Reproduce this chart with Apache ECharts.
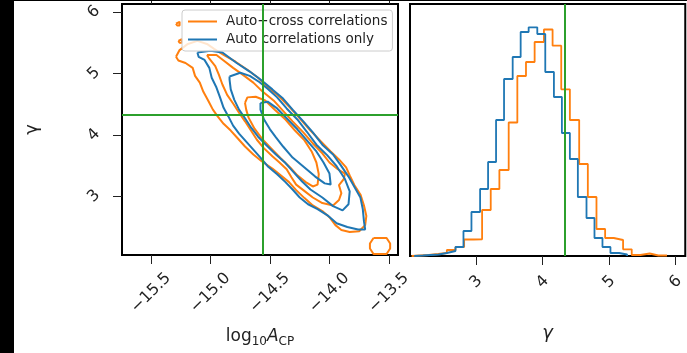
<!DOCTYPE html>
<html lang="en">
<head>
<meta charset="UTF-8">
<title>corner</title>
<script src="https://cdn.jsdelivr.net/npm/echarts@6/dist/echarts.min.js"></script>
<style>
    html, body { margin: 0; padding: 0; background: #fff; }
    #chart { width: 687px; height: 353px; }
</style>
</head>
<body>
<div id="chart"></div>
<script>
    // tick values
    var logATicks = [-15.5, -15.0, -14.5, -14.0, -13.5];
    var gammaTicks = [3, 4, 5, 6];

    // injected values (green lines)
    var truthLogA = -14.56;
    var truthGamma = 4.33;

    // 2D contours, [log10A, gamma]
    var orangeOuter = [[-15.29,5.27],[-15.26,5.38],[-15.19,5.48],[-15.11,5.53],[-15.03,5.48],[-14.97,5.40],[-14.89,5.30],[-14.79,5.19],[-14.69,5.06],[-14.60,4.93],[-14.52,4.78],[-14.42,4.62],[-14.33,4.44],[-14.25,4.27],[-14.16,4.07],[-14.07,3.89],[-13.99,3.73],[-13.92,3.60],[-13.86,3.47],[-13.83,3.34],[-13.79,3.18],[-13.74,3.03],[-13.71,2.85],[-13.69,2.68],[-13.70,2.53],[-13.75,2.43],[-13.83,2.42],[-13.90,2.45],[-13.95,2.53],[-14.00,2.66],[-14.06,2.76],[-14.14,2.85],[-14.21,2.97],[-14.28,3.10],[-14.34,3.23],[-14.41,3.34],[-14.48,3.45],[-14.57,3.57],[-14.64,3.68],[-14.71,3.81],[-14.77,3.94],[-14.83,4.07],[-14.89,4.18],[-14.94,4.30],[-14.98,4.41],[-15.02,4.56],[-15.06,4.70],[-15.09,4.85],[-15.13,4.96],[-15.15,5.09],[-15.21,5.17],[-15.27,5.21]];
    var orangeMiddle = [[-15.03,5.30],[-14.95,5.30],[-14.89,5.21],[-14.81,5.09],[-14.73,4.98],[-14.64,4.85],[-14.56,4.70],[-14.47,4.56],[-14.39,4.39],[-14.31,4.22],[-14.22,4.04],[-14.14,3.86],[-14.06,3.70],[-14.00,3.55],[-13.93,3.44],[-13.87,3.37],[-13.88,3.28],[-13.92,3.18],[-13.90,3.05],[-13.92,2.94],[-13.97,2.85],[-14.06,2.89],[-14.14,2.98],[-14.22,3.10],[-14.28,3.19],[-14.32,3.31],[-14.36,3.44],[-14.42,3.55],[-14.48,3.65],[-14.55,3.78],[-14.61,3.92],[-14.66,4.07],[-14.71,4.22],[-14.76,4.36],[-14.81,4.51],[-14.86,4.65],[-14.90,4.82],[-14.93,4.98],[-14.96,5.12],[-15.01,5.24]];
    var orangeInner = [[-14.71,4.52],[-14.69,4.61],[-14.62,4.62],[-14.54,4.56],[-14.46,4.41],[-14.37,4.25],[-14.29,4.07],[-14.21,3.91],[-14.15,3.73],[-14.11,3.55],[-14.09,3.36],[-14.10,3.19],[-14.14,3.16],[-14.20,3.23],[-14.27,3.34],[-14.33,3.47],[-14.41,3.62],[-14.48,3.76],[-14.56,3.92],[-14.63,4.10],[-14.68,4.28],[-14.70,4.41]];
    var orangeIslandA = [[-15.29,5.81],[-15.28,5.84],[-15.26,5.84],[-15.25,5.81],[-15.26,5.78],[-15.28,5.78]];
    var orangeIslandB = [[-15.27,5.53],[-15.26,5.56],[-15.24,5.56],[-15.23,5.53],[-15.24,5.50],[-15.26,5.50]];
    var orangeIslandC = [[-13.63,2.32],[-13.52,2.32],[-13.49,2.23],[-13.49,2.15],[-13.52,2.06],[-13.63,2.06],[-13.66,2.15],[-13.66,2.23]];

    var blueOuter = [[-15.11,5.34],[-15.00,5.37],[-14.90,5.34],[-14.78,5.17],[-14.67,5.03],[-14.58,4.90],[-14.48,4.74],[-14.39,4.59],[-14.31,4.41],[-14.22,4.22],[-14.14,4.04],[-14.06,3.84],[-13.97,3.68],[-13.91,3.52],[-13.84,3.32],[-13.79,3.15],[-13.74,2.98],[-13.72,2.79],[-13.71,2.59],[-13.70,2.46],[-13.76,2.46],[-13.85,2.50],[-13.94,2.56],[-14.01,2.68],[-14.10,2.79],[-14.18,2.87],[-14.25,2.98],[-14.31,3.11],[-14.37,3.23],[-14.44,3.36],[-14.52,3.49],[-14.58,3.63],[-14.64,3.76],[-14.70,3.89],[-14.76,4.02],[-14.81,4.15],[-14.85,4.30],[-14.89,4.44],[-14.92,4.61],[-14.95,4.77],[-14.99,4.93],[-15.01,5.09],[-15.05,5.22],[-15.10,5.27]];
    var blueMiddle = [[-14.84,4.95],[-14.75,5.01],[-14.67,4.96],[-14.59,4.86],[-14.52,4.75],[-14.44,4.61],[-14.36,4.43],[-14.27,4.25],[-14.19,4.05],[-14.11,3.84],[-14.02,3.67],[-13.94,3.49],[-13.87,3.28],[-13.83,3.08],[-13.84,2.87],[-13.89,2.77],[-13.97,2.84],[-14.06,2.98],[-14.16,3.11],[-14.23,3.24],[-14.30,3.39],[-14.37,3.54],[-14.45,3.68],[-14.53,3.83],[-14.60,3.97],[-14.66,4.12],[-14.71,4.27],[-14.76,4.41],[-14.80,4.57],[-14.83,4.74],[-14.84,4.90]];
    var blueInner = [[-14.58,4.52],[-14.52,4.54],[-14.44,4.43],[-14.36,4.27],[-14.27,4.09],[-14.19,3.91],[-14.11,3.73],[-14.05,3.55],[-14.00,3.37],[-13.99,3.19],[-14.04,3.21],[-14.12,3.32],[-14.21,3.47],[-14.31,3.63],[-14.39,3.81],[-14.45,3.96],[-14.50,4.09],[-14.55,4.25],[-14.58,4.41]];

    // gamma histograms: bin edges and heights
    var gammaEdgesCross = [2.03,2.16,2.29,2.43,2.56,2.69,2.82,2.96,3.09,3.22,3.35,3.49,3.62,3.75,3.88,4.02,4.15,4.28,4.41,4.55,4.68,4.81,4.94,5.07,5.21,5.34,5.47,5.61,5.74,5.87];
    var gammaHistCross = [0.5,1,2,3,6,9,16.5,16.7,46,67,86,133.5,180,194,214,226.5,210.3,166.7,136,92,59,27,18,16,6.7,1,2.5,0.5,0.5];
    var gammaEdgesAuto = [2.07,2.20,2.32,2.44,2.56,2.69,2.81,2.93,3.06,3.18,3.30,3.42,3.55,3.67,3.79,3.92,4.04,4.17,4.29,4.41,4.53,4.66,4.78,4.90,5.02,5.15,5.27];
    var gammaHistAuto = [0.5,1,1.5,3,5,9,25,44,67,94,136,177,199,224,228.7,222,184,159,123,97,59,38,18,9,3,1.5];

    var ORANGE = '#ff7f0e', BLUE = '#1f77b4', GREEN = '#2ca02c';
    var NAME_CROSS = 'Auto+cross correlations', NAME_AUTO = 'Auto correlations only';
    var FONT = 'DejaVu Sans';

    function closed(p) { return p.concat([p[0]]); }
    function steps(edges, h) {
        var pts = [[edges[0], 0]];
        for (var i = 0; i < h.length; i++) {
            pts.push([edges[i], h[i]], [edges[i + 1], h[i]]);
        }
        pts.push([edges[edges.length - 1], 0]);
        return pts;
    }
    function minusFmt(v) {
        return (v < 0 ? '\u2212' : '') + Math.abs(v).toFixed(1);
    }
    function contour(name, color, pts) {
        return {
            type: 'line', name: name, xAxisIndex: 0, yAxisIndex: 0,
            data: closed(pts), symbol: 'none', silent: true,
            lineStyle: { color: color, width: 2 }, itemStyle: { color: color }
        };
    }

    var tickStyle = { lineStyle: { color: '#222', width: 1 } };
    var labelBase = { fontFamily: FONT, fontSize: 16, color: '#222', rotate: 45, align: 'center', verticalAlign: 'middle' };

    var series = [
        contour(NAME_CROSS, ORANGE, orangeOuter),
        contour(NAME_CROSS, ORANGE, orangeMiddle),
        contour(NAME_CROSS, ORANGE, orangeInner),
        contour(NAME_CROSS, ORANGE, orangeIslandA),
        contour(NAME_CROSS, ORANGE, orangeIslandB),
        contour(NAME_CROSS, ORANGE, orangeIslandC),
        contour(NAME_AUTO, BLUE, blueOuter),
        contour(NAME_AUTO, BLUE, blueMiddle),
        contour(NAME_AUTO, BLUE, blueInner),
        {
            type: 'line', name: NAME_CROSS, xAxisIndex: 1, yAxisIndex: 1,
            data: steps(gammaEdgesCross, gammaHistCross), symbol: 'none', silent: true,
            lineStyle: { color: ORANGE, width: 1.8 }, itemStyle: { color: ORANGE }
        },
        {
            type: 'line', name: NAME_AUTO, xAxisIndex: 1, yAxisIndex: 1,
            data: steps(gammaEdgesAuto, gammaHistAuto), symbol: 'none', silent: true,
            lineStyle: { color: BLUE, width: 1.8 }, itemStyle: { color: BLUE }
        },
        {
            type: 'line', name: 'truth2d', xAxisIndex: 0, yAxisIndex: 0,
            data: [[truthLogA, truthGamma]], symbol: 'none', silent: true,
            markLine: {
                silent: true, symbol: ['none', 'none'], label: { show: false },
                lineStyle: { color: GREEN, width: 2, type: 'solid' },
                data: [{ xAxis: truthLogA }, { yAxis: truthGamma }]
            }
        },
        {
            type: 'line', name: 'truth1d', xAxisIndex: 1, yAxisIndex: 1,
            data: [[truthGamma, 0]], symbol: 'none', silent: true,
            markLine: {
                silent: true, symbol: ['none', 'none'], label: { show: false },
                lineStyle: { color: GREEN, width: 2, type: 'solid' },
                data: [{ xAxis: truthGamma }]
            }
        }
    ];

    var option = {
        animation: false,
        backgroundColor: '#fff',
        grid: [
            { left: 122, top: 4, width: 276, height: 252, show: true, borderColor: '#000', borderWidth: 2, backgroundColor: '#fff' },
            { left: 410, top: 4, width: 276, height: 252, show: true, borderColor: '#000', borderWidth: 2, backgroundColor: '#fff' }
        ],
        legend: {
            data: [NAME_CROSS, NAME_AUTO],
            orient: 'vertical', left: 182, top: 10,
            padding: [4, 5, 4, 6], itemGap: 3,
            itemWidth: 29, itemHeight: 2, icon: 'rect',
            backgroundColor: 'rgba(255,255,255,0.8)',
            borderColor: '#cccccc', borderWidth: 1, borderRadius: 3,
            selectedMode: false,
            textStyle: { fontFamily: FONT, fontSize: 13.5, color: '#222', lineHeight: 15, padding: [0, 0, 0, 4] }
        },
        xAxis: [
            {
                gridIndex: 0, type: 'value', min: -15.744, max: -13.424,
                axisLine: { show: false }, splitLine: { show: false },
                axisTick: Object.assign({ customValues: logATicks, length: 9 }, tickStyle),
                axisLabel: Object.assign({ customValues: logATicks, margin: 38, formatter: minusFmt }, labelBase),
                name: '{r|log}{s|10}{i|A}{s|CP}', nameLocation: 'middle', nameGap: 71,
                nameTextStyle: {
                    fontFamily: FONT, color: '#222',
                    rich: {
                        r: { fontFamily: FONT, fontSize: 17, lineHeight: 22, color: '#222' },
                        i: { fontFamily: FONT, fontSize: 17, lineHeight: 22, fontStyle: 'italic', color: '#222' },
                        s: { fontFamily: FONT, fontSize: 12, lineHeight: 9, verticalAlign: 'bottom', color: '#222' }
                    }
                }
            },
            {
                gridIndex: 1, type: 'value', min: 2.006, max: 6.145,
                axisLine: { show: false }, splitLine: { show: false },
                axisTick: Object.assign({ customValues: gammaTicks, length: 9 }, tickStyle),
                axisLabel: Object.assign({ customValues: gammaTicks, margin: 26 }, labelBase),
                name: 'γ', nameLocation: 'middle', nameGap: 68,
                nameTextStyle: { fontFamily: FONT, fontSize: 18, fontStyle: 'italic', color: '#222' }
            },
            {
                gridIndex: 0, type: 'value', position: 'top', min: -15.744, max: -13.424,
                axisLine: { show: false }, splitLine: { show: false }, axisLabel: { show: false },
                axisTick: Object.assign({ customValues: logATicks, length: 4 }, tickStyle)
            }
        ],
        yAxis: [
            {
                gridIndex: 0, type: 'value', min: 2.044, max: 6.13,
                axisLine: { show: false }, splitLine: { show: false },
                axisTick: Object.assign({ customValues: gammaTicks, length: 9 }, tickStyle),
                axisLabel: Object.assign({ customValues: gammaTicks, margin: 28 }, labelBase),
                name: 'γ', nameLocation: 'middle', nameRotate: 90, nameGap: 81,
                nameTextStyle: { fontFamily: FONT, fontSize: 18, color: '#222' }
            },
            {
                gridIndex: 1, type: 'value', min: 0, max: 252, show: false
            }
        ],
        graphic: [
            { type: 'rect', left: 0, top: 0, z: 100, shape: { width: 14, height: 353 }, style: { fill: '#000' } },
            { type: 'rect', left: 0, top: 0, z: 100, shape: { width: 687, height: 1 }, style: { fill: '#000' } }
        ],
        series: series
    };

    var myChart = echarts.init(document.getElementById('chart'));
    myChart.setOption(option);
</script>
</body>
</html>
